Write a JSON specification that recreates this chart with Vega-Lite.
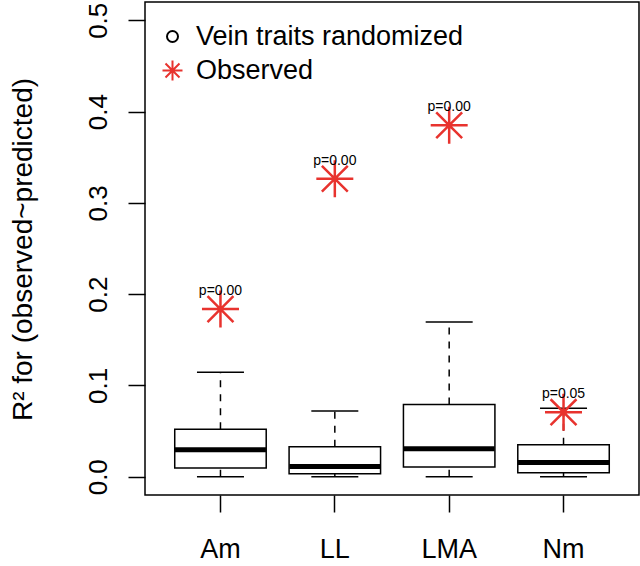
{
  "$schema": "https://vega.github.io/schema/vega-lite/v6.json",
  "width": 494,
  "height": 493,
  "autosize": {"type": "none"},
  "padding": {"left": 145, "top": 2, "right": 1, "bottom": 71},
  "background": "white",
  "config": {
    "font": "Liberation Sans",
    "view": {"stroke": "black", "strokeWidth": 1.5},
    "axis": {"grid": false, "domain": false, "tickColor": "black", "tickWidth": 1.5, "labelColor": "black", "titleColor": "black", "labelFont": "Liberation Sans", "titleFont": "Liberation Sans"}
  },
  "data": {
    "values": [
      {"trait": "Am", "lower": 0.0, "q1": 0.0095, "median": 0.0295, "q3": 0.052, "upper": 0.1144, "observed": 0.1836, "series": "Observed", "plabel": "p=0.00"},
      {"trait": "LL", "lower": 0.0, "q1": 0.0033, "median": 0.0113, "q3": 0.0328, "upper": 0.0721, "observed": 0.3264, "series": "Observed", "plabel": "p=0.00"},
      {"trait": "LMA", "lower": 0.0, "q1": 0.0106, "median": 0.0306, "q3": 0.079, "upper": 0.1694, "observed": 0.385, "series": "Observed", "plabel": "p=0.00"},
      {"trait": "Nm", "lower": 0.0, "q1": 0.0044, "median": 0.0156, "q3": 0.035, "upper": 0.075, "observed": 0.0707, "series": "Observed", "plabel": "p=0.05"}
    ]
  },
  "encoding": {
    "x": {
      "field": "trait", "type": "nominal",
      "scale": {"paddingInner": 0, "paddingOuter": 0.16},
      "axis": {"title": null, "labelAngle": 0, "labelFontSize": 27, "tickSize": 17, "labelPadding": 45, "labelBaseline": "alphabetic"}
    }
  },
  "layer": [
    {
      "mark": {"type": "rule", "strokeDash": [7, 7], "strokeWidth": 1.5, "color": "black"},
      "encoding": {
        "y": {"field": "q3", "type": "quantitative", "scale": {"domain": [-0.02, 0.52], "nice": false, "zero": false},
          "axis": {"values": [0, 0.1, 0.2, 0.3, 0.4, 0.5], "format": ".1f", "labelFontSize": 26, "labelAngle": -90, "labelAlign": "center", "labelBaseline": "alphabetic", "tickSize": 17, "labelPadding": 22,
            "title": "R² for (observed~predicted)", "titleFontSize": 28, "titleFontWeight": "normal", "titleAngle": -90, "titleX": -114, "titleY": 247, "titleAlign": "center", "titleBaseline": "alphabetic"}},
        "y2": {"field": "upper"}
      }
    },
    {
      "mark": {"type": "rule", "strokeDash": [7, 7], "strokeWidth": 1.5, "color": "black"},
      "encoding": {
        "y": {"field": "lower", "type": "quantitative"},
        "y2": {"field": "q1"}
      }
    },
    {
      "mark": {"type": "tick", "orient": "horizontal", "size": 47, "thickness": 1.5, "color": "black", "opacity": 1},
      "encoding": {"y": {"field": "upper", "type": "quantitative"}}
    },
    {
      "mark": {"type": "tick", "orient": "horizontal", "size": 47, "thickness": 1.5, "color": "black", "opacity": 1},
      "encoding": {"y": {"field": "lower", "type": "quantitative"}}
    },
    {
      "mark": {"type": "bar", "width": {"band": 0.8}, "fill": "white", "stroke": "black", "strokeWidth": 1.5},
      "encoding": {
        "y": {"field": "q1", "type": "quantitative"},
        "y2": {"field": "q3"}
      }
    },
    {
      "mark": {"type": "tick", "orient": "horizontal", "size": 91, "thickness": 5, "color": "black", "opacity": 1},
      "encoding": {"y": {"field": "median", "type": "quantitative"}}
    },
    {
      "mark": {"type": "point", "filled": false, "size": 1369, "strokeWidth": 2.5, "opacity": 1},
      "encoding": {
        "y": {"field": "observed", "type": "quantitative"},
        "color": {"field": "series", "type": "nominal",
          "scale": {"domain": ["Vein traits randomized", "Observed"], "range": ["black", "#e8332e"]},
          "legend": {"title": null, "orient": "none", "legendX": 14, "legendY": 21, "padding": 0, "labelFontSize": 27, "labelColor": "black", "labelLimit": 0, "labelOffset": 10, "rowPadding": 6, "symbolSize": 400, "symbolStrokeWidth": 2}
        },
        "shape": {"field": "series", "type": "nominal",
          "scale": {"domain": ["Vein traits randomized", "Observed"], "range": ["M-0.55,0A0.55,0.55 0 1,0 0.55,0A0.55,0.55 0 1,0 -0.55,0Z", "M-1,0L1,0M0,-1L0,1M-0.7,-0.7L0.7,0.7M-0.7,0.7L0.7,-0.7"]}
        }
      }
    },
    {
      "mark": {"type": "text", "fontSize": 14, "baseline": "alphabetic", "align": "center", "dy": -14, "color": "black"},
      "encoding": {
        "y": {"field": "observed", "type": "quantitative"},
        "text": {"field": "plabel"}
      }
    }
  ]
}
